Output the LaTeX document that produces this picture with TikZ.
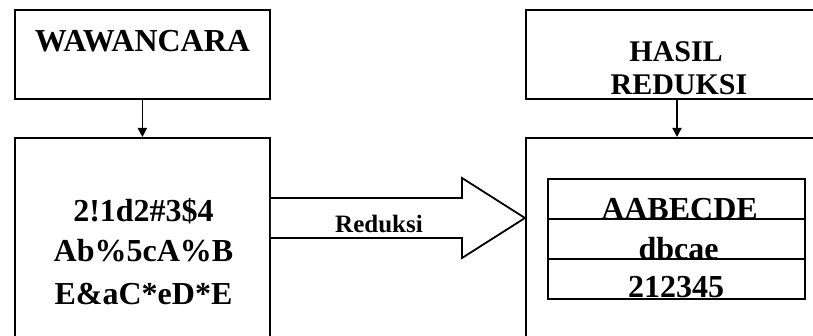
\documentclass[tikz,border=0pt]{standalone}
\usepackage{fontspec}
\setmainfont{Liberation Serif}
\usetikzlibrary{arrows.meta}
\begin{document}
\begin{tikzpicture}[x=1pt,y=-1pt,
  box/.style={draw, line width=1.8pt, fill=white, inner sep=0pt, anchor=north west},
  ttl/.style={font=\fontsize{30}{36}\selectfont\bfseries, anchor=base, inner sep=0pt},
  body/.style={font=\fontsize{32}{38}\selectfont\bfseries, anchor=base, inner sep=0pt},
  lbl/.style={font=\fontsize{25}{30}\selectfont\bfseries, anchor=base, inner sep=0pt},
  conn/.style={line width=1.8pt, -{Triangle[length=9pt,width=9pt]}}]
\useasboundingbox (0,0) rectangle (813,336);
\clip (0,0) rectangle (813,336);
% boxes
\node[box, minimum width=255pt, minimum height=88.5pt] (wbox) at (14,9.5) {};
\node[box, minimum width=255pt, minimum height=230pt] (lbox) at (14,137) {};
\node[box, minimum width=320pt, minimum height=88.5pt] (hbox) at (525,9.5) {};
\node[box, minimum width=320pt, minimum height=230pt] (rbox) at (525,137) {};
% titles
\node[ttl, font=\fontsize{32}{36}\selectfont\bfseries] (wt) at (142.5,52) {WAWANCARA};
\node[ttl] (ht1) at (676,62) {HASIL};
\node[ttl] (ht2) at (679,95) {REDUKSI};
% left body
\node[body] (l1) at (143.5,222) {2!1d2\#3\$4};
\node[body] (l2) at (143.5,262) {Ab\%5cA\%B};
\node[body] (l3) at (143.5,305) {E\&aC*eD*E};
% table
\node[box, minimum width=257pt, minimum height=40pt] (c1) at (547,178) {};
\node[body] (t1) at (679.5,220) {AABECDE};
\node[box, minimum width=257pt, minimum height=40pt] (c2) at (547,218) {};
\node[body] (t2) at (678.5,260) {dbcae};
\node[box, minimum width=257pt, minimum height=40pt] (c3) at (547,258) {};
\node[body] (t3) at (676,298) {212345};
% connectors
\draw[conn] (wbox.south) -- (lbox.north);
\coordinate (hx) at (677,0);
\draw[conn] (hbox.south -| hx) -- (rbox.north -| hx);
% block arrow
\draw[line width=1.8pt, fill=white, line join=miter]
  (lbox.east |- 0,198) -- (462,198) -- (462,178) -- (rbox.west |- 0,218)
  -- (462,258) -- (462,238) -- (lbox.east |- 0,238);
\node[lbl] (rl) at (379,233) {Reduksi};
\end{tikzpicture}
\end{document}
